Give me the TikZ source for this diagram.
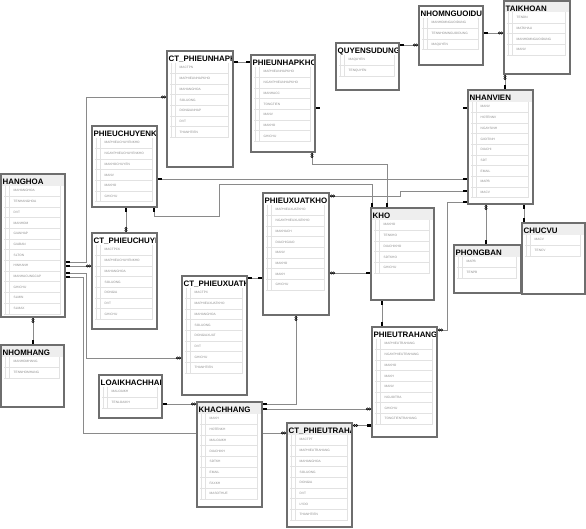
\documentclass[tikz,border=0pt]{standalone}
\usepackage{fontspec}
\setmainfont{Liberation Sans}
\usetikzlibrary{calc}
\pgfdeclarelayer{paper}
\pgfdeclarelayer{bg}
\pgfsetlayers{paper,bg,main}
\definecolor{bordc}{HTML}{6E6E6E}
\definecolor{sepc}{HTML}{E2E2E2}
\definecolor{bandc}{HTML}{EEEEEE}
\definecolor{rowc}{HTML}{8C8C8C}
\definecolor{connc}{HTML}{8A8A8A}
\tikzset{
 tblbox/.style={fill=white, inner sep=0pt, outer sep=0pt},
 tblborder/.style={draw=bordc, line width=1.6pt},
 ttl/.style={font=\fontsize{7.9}{8}\selectfont\bfseries, text=black, inner sep=0pt},
 rowtxt/.style={font=\fontsize{3.2}{4}\selectfont, text=rowc, inner sep=0pt},
 sepl/.style={draw=sepc, line width=0.7pt},
 conn/.style={draw=connc, line width=0.9pt},
 mk/.style={fill=black},
 mkl/.style={draw=black, line width=0.6pt},
 gband/.style={fill=bandc},
 wband/.style={fill=white},
}
% #1 name, #2 title, #3 x0, #4 y0, #5 x1, #6 y1, #7 rows, #8 band style
\newcommand\dbt[8]{%
  \node[tblbox, minimum width={(#5-#3)*1pt}, minimum height={(#6-#4)*1pt}, anchor=north west] (#1) at (#3,#4) {};
  \begin{scope}
    \clip (#3,#4) rectangle (#5,#6);
    \fill[#8] (#3,#4) rectangle (#5,#4+11.5);
    \node[ttl, anchor=base west] at (#3+1.5,#4+10.3) {#2};
    \foreach \r [count=\i] in {#7} {
      \pgfmathsetmacro\ya{#4+11.5+(\i-1)*10.7}
      \pgfmathsetmacro\yb{\ya+10.7}
      \node[rowtxt, anchor=west] at (#3+12.5,\ya+5.35) {\r};
      \draw[sepl] (#3+3,\yb) -- (#5-4.5,\yb);
      \xdef\lastY{\yb}
    }
    \draw[sepl] (#3+4,#4+11.5) -- (#3+4,\lastY) (#3+8,#4+11.5) -- (#3+8,\lastY) (#5-4.5,#4+11.5) -- (#5-4.5,\lastY);
  \end{scope}
  \draw[tblborder] (#3,#4) rectangle (#5,#6);
}
\newcommand\keyR[2]{\fill[mk] (#1,#2-1.2) rectangle ++(4,2.4);}
\newcommand\keyL[2]{\fill[mk] (#1-4,#2-1.2) rectangle ++(4,2.4);}
\newcommand\keyD[2]{\fill[mk] (#1-1.2,#2) rectangle ++(2.4,4);}
\newcommand\keyU[2]{\fill[mk] (#1-1.2,#2-4) rectangle ++(2.4,4);}
\newcommand\infR[2]{\draw[mkl] (#1+1.4,#2) circle (1.1) (#1+3.6,#2) circle (1.1);}
\newcommand\infL[2]{\draw[mkl] (#1-1.4,#2) circle (1.1) (#1-3.6,#2) circle (1.1);}
\newcommand\infD[2]{\draw[mkl] (#1,#2+1.4) circle (1.1) (#1,#2+3.6) circle (1.1);}
\newcommand\infU[2]{\draw[mkl] (#1,#2-1.4) circle (1.1) (#1,#2-3.6) circle (1.1);}
\begin{document}
\begin{tikzpicture}[x=1pt,y=-1pt]
\useasboundingbox (0,0) rectangle (586,528);
\begin{pgfonlayer}{paper}
\fill[white] (0,0) rectangle (586,528);
\end{pgfonlayer}

\dbt{HH}{HANGHOA}{1}{174}{65}{317}{MAHANGHOA,TENHANGHOA,DVT,MANHOM,GIANHAP,GIABAN,SLTON,HINHANH,MANHACUNGCAP,GHICHU,SLMIN,SLMAX}{gband}
\dbt{NH}{NHOMHANG}{1}{345}{64}{407}{MANHOMHANG,TENNHOMHANG}{gband}
\dbt{PC}{PHIEUCHUYENKHO}{92}{126}{157}{207}{MAPHIEUCHUYENKHO,NGAYPHIEUCHUYENKHO,MAKHOCHUYEN,MANV,MAKHO,GHICHU}{wband}
\dbt{CTPC}{CT\_PHIEUCHUYENKHO}{92}{233}{157}{329}{MACTPCK,MAPHIEUCHUYENKHO,MAHANGHOA,SOLUONG,DONGIA,DVT,GHICHU}{wband}
\dbt{CTPN}{CT\_PHIEUNHAPKHO}{167}{51}{233}{167}{MACTPN,MAPHIEUNHAPKHO,MAHANGHOA,SOLUONG,DONGIANHAP,DVT,THANHTIEN}{wband}
\dbt{PN}{PHIEUNHAPKHO}{251}{55}{315}{152}{MAPHIEUNHAPKHO,NGAYPHIEUNHAPKHO,MANHACC,TONGTIEN,MANV,MAKHO,GHICHU}{wband}
\dbt{QS}{QUYENSUDUNG}{336}{43}{399}{90}{MAQUYEN,TENQUYEN}{wband}
\dbt{NG}{NHOMNGUOIDUNG}{419}{6}{483}{65}{MANHOMNGUOIDUNG,TENNHOMNGUOIDUNG,MAQUYEN}{wband}
\dbt{TK}{TAIKHOAN}{504}{0.8}{570}{74}{TENDN,MATKHAU,MANHOMNGUOIDUNG,MANV}{gband}
\dbt{NV}{NHANVIEN}{468}{90}{533}{204}{MANV,HOTENNV,NGAYSINH,GIOITINH,DIACHI,SDT,EMAIL,MAPB,MACV}{gband}
\dbt{PB}{PHONGBAN}{454}{245}{521}{293}{MAPB,TENPB}{gband}
\dbt{CV}{CHUCVU}{522}{223}{585}{294}{MACV,TENCV}{gband}
\dbt{PX}{PHIEUXUATKHO}{263}{193}{329}{315}{MAPHIEUXUATKHO,NGAYPHIEUXUATKHO,MAKHACH,DIACHIGIAO,MANV,MAKHO,MAKH,GHICHU}{wband}
\dbt{KHO}{KHO}{371}{208}{434}{300}{MAKHO,TENKHO,DIACHIKHO,SDTKHO,GHICHU}{gband}
\dbt{CTPX}{CT\_PHIEUXUATKHO}{182}{276}{247}{395}{MACTPX,MAPHIEUXUATKHO,MAHANGHOA,SOLUONG,DONGIAXUAT,DVT,GHICHU,THANHTIEN}{wband}
\dbt{LKH}{LOAIKHACHHANG}{99}{375}{162}{418}{MALOAIKH,TENLOAIKH}{wband}
\dbt{KH}{KHACHHANG}{197}{402}{262}{507}{MAKH,HOTENKH,MALOAIKH,DIACHIKH,SDTKH,EMAIL,FAXKH,MASOTHUE}{gband}
\dbt{CTPT}{CT\_PHIEUTRAHANG}{287}{423}{352}{527}{MACTPT,MAPHIEUTRAHANG,MAHANGHOA,SOLUONG,DONGIA,DVT,LYDO,THANHTIEN}{gband}
\dbt{PT}{PHIEUTRAHANG}{372}{327}{437}{437}{MAPHIEUTRAHANG,NGAYPHIEUTRAHANG,MAKHO,MAKH,MANV,NGUOITRA,GHICHU,TONGTIENTRAHANG}{wband}

\begin{pgfonlayer}{bg}
\draw[conn] (HH.east|-0,262) -- (86,262) |- (CTPN.west|-0,97);
\draw[conn] (HH.east|-0,266) -- (CTPC.west|-0,266);
\draw[conn] (HH.east|-0,273) -- (86,273) |- (CTPX.west|-0,358);
\draw[conn] (HH.east|-0,277) -- (83,277) |- (CTPT.west|-0,433);
\draw[conn] (HH.south-|33,0) -- (NH.north-|33,0);
\draw[conn] (PC.south-|126,0) -- (CTPC.north-|126,0);
\draw[conn] (PC.east|-0,179) -- (NV.west|-0,179);
\draw[conn] (PC.south-|154,0) -- (154,216) -- (219,216) -- (219,184) -| (KHO.north-|372,0);
\draw[conn] (PN.south-|312,0) -- (312,164) -| (KHO.north-|387,0);
\draw[conn] (CTPN.east|-0,62) -- (PN.west|-0,62);
\draw[conn] (QS.east|-0,45) -- (NG.west|-0,45);
\draw[conn] (NG.east|-0,33) -- (TK.west|-0,33);
\draw[conn] (TK.south-|505,0) -- (NV.north-|505,0);
\draw[conn] (NV.south-|486,0) -- (PB.north-|486,0);
\draw[conn] (NV.south-|524,0) -- (CV.north-|524,0);
\draw[conn] (PX.east|-0,196) -- (400,196) -- (400,191) -- (NV.west|-0,191);
\draw[conn] (NV.west|-0,202) -- (447,202) |- (PT.east|-0,330);
\draw[conn] (PX.south-|296,0) |- (KH.east|-0,404);
\draw[conn] (KH.east|-0,409) -- (PT.west|-0,409);
\draw[conn] (CTPT.east|-0,425.5) -- (PT.west|-0,425.5);
\draw[conn] (CTPX.east|-0,278) -- (PX.west|-0,278);
\draw[conn] (PX.east|-0,273) -- (KHO.west|-0,273);
\draw[conn] (KHO.south-|382,0) -- (PT.north-|382,0);
\draw[conn] (LKH.east|-0,404) -- (KH.west|-0,404);
\end{pgfonlayer}

\keyR{66}{262}\keyR{66}{266}\keyR{66}{273}\keyR{66}{277}
\infL{166}{97}\infL{91}{266}\infL{181}{358}\infL{286}{433}
\infD{33}{318}\keyU{33}{344}
\keyD{126}{208}\infU{126}{232}
\keyR{158}{179}\keyL{467}{179}
\keyD{154}{208}\keyU{372}{207}
\infD{312}{153}\keyU{387}{207}
\keyR{234}{62}\keyL{250}{62}
\keyR{316}{108}\keyL{467}{108}
\keyR{400}{45}\infL{418}{45}
\keyR{484}{33}\infL{503}{33}
\infD{505}{75}\keyU{505}{89}
\infD{486}{205}\keyU{486}{244}
\keyD{524}{205}\keyU{524}{222}
\infR{330}{196}\keyL{467}{191}
\keyL{467}{202}\infR{438}{330}
\infD{296}{316}\keyR{263}{404}
\keyR{263}{409}\infL{371}{409}
\infR{353}{425.5}\keyL{371}{425.5}
\keyR{248}{278}\keyL{262}{278}
\infR{330}{273}\keyL{370}{273}
\keyD{382}{301}\keyU{382}{326}
\keyR{163}{404}\infL{196}{404}
\end{tikzpicture}
\end{document}
